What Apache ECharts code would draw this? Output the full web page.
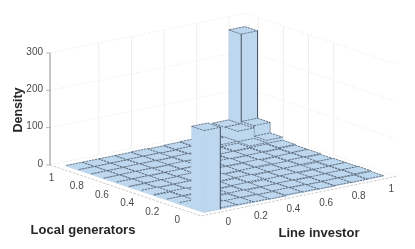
<!DOCTYPE html>
<html><head><meta charset="utf-8">
<style>html,body{margin:0;padding:0;background:#fff}#c{width:415px;height:249px}</style>
<script src="https://cdn.jsdelivr.net/npm/echarts@6/dist/echarts.min.js"></script>
</head><body><div id="c"></div>
<script>
// ---- data ----
const lineBins = [0,0.1,0.2,0.3,0.4,0.5,0.6,0.7,0.8,0.9,1];
const localBins = [0,0.1,0.2,0.3,0.4,0.5,0.6,0.7,0.8,0.9,1];
const local00 = [220,4,3,2,1,3,2,1,2,1,2];
const local01 = [4,2,1,3,1,2,3,1,2,3,4];
const local02 = [2,1,4,1,3,1,2,3,1,2,3];
const local03 = [1,3,1,3,2,4,1,2,3,1,3];
const local04 = [3,1,2,2,4,1,3,1,2,4,2];
const local05 = [1,2,2,4,1,3,2,4,1,3,4];
const local06 = [2,2,1,2,2,1,4,2,3,2,4];
const local07 = [1,2,2,1,3,2,1,3,2,4,6];
const local08 = [1,1,2,2,1,3,2,2,4,8,14];
const local09 = [1,1,1,2,2,1,3,2,9,36,42];
const local10 = [1,1,1,1,2,1,2,3,8,35,276];
const densityRows = [local00,local01,local02,local03,local04,local05,local06,local07,local08,local09,local10];
const zTicks = [0,100,200,300];
const lineTicks = [0,0.2,0.4,0.6,0.8,1];
const localTicks = [0,0.2,0.4,0.6,0.8,1];
const lineGrid = [0.2,0.4,0.6,0.8,1];
const localGrid = [0.4,0.6,0.8,1];
const xTitle = 'Line investor', yTitle = 'Local generators', zTitle = 'Density';

// ---- oblique projection of (line, local, density) onto the page plane ----
const O = {x:204.7,y:208.4}, U = {x:163,y:-33}, V = {x:-125.8,y:-42.5}, Zs = 0.3733;
const proj = (l,m,z)=>[O.x+U.x*l+V.x*m, O.y+U.y*l+V.y*m-Zs*(z||0)];
const LO=-0.1, HI=1.1, ZMAX=300, HW=0.05;
const barProj = (l,m,z)=>{const p=proj(l,m,z);return [p[0]+1.2,p[1]+0.5];};

const barData = [];
densityRows.forEach((row,i)=>row.forEach((z,j)=>barData.push([lineBins[j],localBins[i],z])));
barData.sort((a,b)=>(b[0]+b[1])-(a[0]+a[1]));

const FILL='#BDD7EE', EDGE='#1f2a36';
const TXT='#4a4a4a';
function poly(api,pts,style){return {type:'polygon',shape:{points:pts.map(p=>api.coord(p))},style};}
function line(api,pts,stroke,w,dash,op){return {type:'polyline',shape:{points:pts.map(p=>api.coord(p))},
  style:{fill:null,stroke,lineWidth:w,lineDash:dash||null,opacity:op==null?1:op}};}

function renderBar(params,api){
  const l=api.value(0), m=api.value(1), z=api.value(2);
  const a=barProj(l-HW,m-HW,0), b=barProj(l+HW,m-HW,0), d=barProj(l-HW,m+HW,0);
  const at=barProj(l-HW,m-HW,z), bt=barProj(l+HW,m-HW,z), ct=barProj(l+HW,m+HW,z), dt=barProj(l-HW,m+HW,z);
  const f={fill:FILL,stroke:FILL,lineWidth:0.4};
  const dash=[2.2,0.9];
  const ch=[poly(api,[d,a,at,dt],f),poly(api,[a,b,bt,at],f),poly(api,[at,bt,ct,dt],f)];
  if(l===0 && z<20){
    ch.push(line(api,[at,bt,ct,dt],EDGE,0.7,dash,0.8));
  } else {
    ch.push(line(api,[at,bt,ct,dt,at],EDGE,0.7,dash,0.8));
  }
  if(z>100){
    ch.push(line(api,[b,bt],EDGE,0.9,null,0.85));
    if(z>250) ch.push(line(api,[a,at],EDGE,0.9,null,0.85));
  } else if(z>=20 && l===1){
    ch.push(line(api,[a,at],EDGE,0.8,null,0.85));
    ch.push(line(api,[b,bt],EDGE,0.6,null,0.6));
  }
  return {type:'group',children:ch};
}

function renderWalls(params,api){
  const ch=[], GR='#ebebeb', VG='#efefef', AX='#c4c4c4';
  lineGrid.forEach(t=>ch.push(line(api,[proj(t,HI,0),proj(t,HI,ZMAX)],VG,1)));
  localGrid.forEach(t=>ch.push(line(api,[proj(HI,t,0),proj(HI,t,ZMAX)],VG,1)));
  zTicks.forEach(t=>{
    ch.push(line(api,[proj(LO,HI,t),proj(HI,HI,t)],GR,0.8,[2,2]));
    ch.push(line(api,[proj(HI,HI,t),proj(HI,LO,t)],GR,0.8,[2,2]));
  });
  ch.push(line(api,[proj(LO,HI,0),proj(LO,LO,0),proj(HI,LO,0)],AX,0.9,[2.5,1.5]));
  ch.push(line(api,[proj(LO,HI,0),proj(LO,HI,ZMAX)],'#8c8c8c',1));
  zTicks.forEach(t=>{
    const p=proj(LO,HI,t);
    ch.push(line(api,[[p[0]-4,p[1]],p],'#a8a8a8',0.8));
  });
  return {type:'group',children:ch};
}

const tickFont='10px "Liberation Sans", Arial, sans-serif';
const graphics=[];
zTicks.forEach(t=>{const p=proj(LO,HI,t);graphics.push({type:'text',x:p[0]-7,y:p[1]-1,silent:true,
  style:{text:String(t),fill:TXT,font:tickFont,align:'right',verticalAlign:'middle'}});});
localTicks.forEach(t=>{const p=proj(LO,t,0);graphics.push({type:'text',x:p[0]-11,y:p[1]+9,silent:true,
  style:{text:String(t),fill:TXT,font:tickFont,align:'center',verticalAlign:'middle'}});});
lineTicks.forEach(t=>{const p=proj(t,LO,0);graphics.push({type:'text',x:p[0]+11,y:p[1]+10,silent:true,
  style:{text:String(t),fill:TXT,font:tickFont,align:'center',verticalAlign:'middle'}});});
const bold='bold 13px "Liberation Sans", Arial, sans-serif';
graphics.push({type:'text',x:83,y:230,silent:true,style:{text:yTitle,fill:'#262626',font:bold,align:'center',verticalAlign:'middle'}});
graphics.push({type:'text',x:319,y:233,silent:true,style:{text:xTitle,fill:'#262626',font:bold,align:'center',verticalAlign:'middle'}});
graphics.push({type:'text',x:19,y:110,rotation:Math.PI/2,silent:true,style:{text:zTitle,fill:'#262626',font:'bold 12.5px "Liberation Sans", Arial, sans-serif',align:'center',verticalAlign:'middle'}});

const chart=echarts.init(document.getElementById('c'),null,{width:415,height:249});
chart.setOption({
  animation:false,
  backgroundColor:'#fff',
  grid:{left:0,right:0,top:0,bottom:0},
  xAxis:{type:'value',min:0,max:415,show:false},
  yAxis:{type:'value',min:0,max:249,inverse:true,show:false},
  graphic:graphics,
  series:[
    {type:'custom',silent:true,clip:false,z:1,renderItem:renderWalls,data:[[0,0]]},
    {type:'custom',silent:true,clip:false,z:2,renderItem:renderBar,data:barData,
     encode:{x:0,y:1},dimensions:['line','local','density']}
  ]
});
</script></body></html>
